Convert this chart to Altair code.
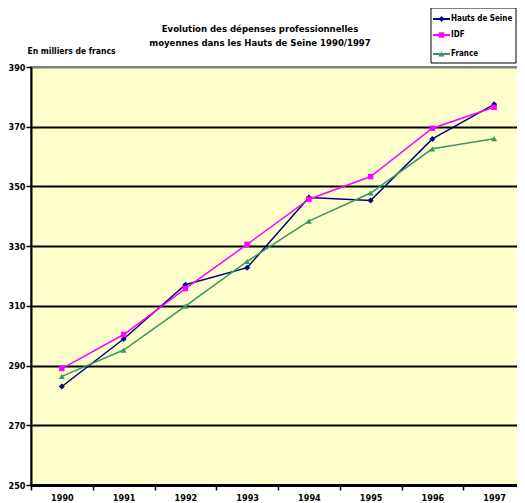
import altair as alt
import pandas as pd

years = ["1990", "1991", "1992", "1993", "1994", "1995", "1996", "1997"]
series_names = ["Hauts de Seine", "IDF", "France"]
hauts_de_seine = [283.0, 298.9, 317.1, 322.8, 346.3, 345.3, 365.9, 377.5]
idf = [289.0, 300.4, 315.8, 330.6, 345.7, 353.3, 369.5, 376.5]
france = [286.4, 295.2, 309.9, 324.9, 338.4, 347.8, 362.6, 366.0]
y_ticks = [250, 270, 290, 310, 330, 350, 370, 390]
title_lines = ["Evolution  des  dépenses  professionnelles",
               "moyennes  dans  les  Hauts  de  Seine  1990/1997"]
y_title = "En milliers de francs"

colors = ["#000080", "#FF00FF", "#339966"]
shapes = ["diamond", "square", "triangle-up"]
sizes = [36, 30, 36]
values = [hauts_de_seine, idf, france]

FONT = "DejaVu Sans Condensed"

x_enc = alt.X(
    "year:N",
    sort=years,
    scale=alt.Scale(type="band", domain=years, paddingInner=0, paddingOuter=0),
    axis=alt.Axis(
        title=None, labelAngle=0, tickBand="extent", grid=False,
        domainColor="black", domainWidth=3, tickColor="black", tickWidth=1.5,
        tickSize=5, labelPadding=3, labelFont=FONT, labelFontWeight="bold",
        labelFontSize=9, labelColor="black",
    ),
)
y_enc = alt.Y(
    "value:Q",
    scale=alt.Scale(domain=[250, 390], nice=False, zero=False),
    axis=alt.Axis(
        values=y_ticks, grid=True,
        gridColor={"condition": {"test": "datum.value == 390", "value": "#808080"}, "value": "black"},
        gridWidth=2, domainColor="black", domainWidth=2, tickColor="black",
        tickWidth=1.5, tickSize=5, labelPadding=1, labelFont=FONT,
        labelFontWeight="bold", labelFontSize=9, labelColor="black",
        title=y_title, titleAngle=0, titleAlign="left", titleBaseline="middle",
        titleX=-4, titleY=-17, titleFont=FONT, titleFontWeight="bold",
        titleFontSize=8.5, titleColor="black",
    ),
)

layers = []
for name, vals, col, shp, sz in zip(series_names, values, colors, shapes, sizes):
    df = pd.DataFrame({"year": years, "value": vals, "series": name})
    base = alt.Chart(df)
    layers.append(base.mark_line(color=col, strokeWidth=1.5).encode(x=x_enc, y=y_enc))
    layers.append(base.mark_point(color=col, shape=shp, size=sz, filled=True, opacity=1).encode(x=x_enc, y=y_enc))

# title text
for i, line in enumerate(title_lines):
    layers.append(
        alt.Chart(pd.DataFrame({"t": [line]})).mark_text(
            font=FONT, fontWeight="bold", fontSize=9.5, align="center", baseline="middle", color="black"
        ).encode(x=alt.value(229), y=alt.value(-38 + 14 * i), text="t:N")
    )

# legend box
layers.append(
    alt.Chart(pd.DataFrame({"a": [0]})).mark_rect(fill="white", stroke="black", strokeWidth=1).encode(
        x=alt.value(400), x2=alt.value(485), y=alt.value(-59), y2=alt.value(-4)
    )
)
legend_y = [-48, -32, -13]
for name, col, shp, sz, ly in zip(series_names, colors, shapes, sizes, legend_y):
    ldf = pd.DataFrame({"name": [name]})
    lb = alt.Chart(ldf)
    layers.append(lb.mark_rule(color=col, strokeWidth=2).encode(x=alt.value(402), x2=alt.value(419), y=alt.value(ly)))
    layers.append(lb.mark_point(color=col, shape=shp, size=sz, filled=True, opacity=1).encode(x=alt.value(410.5), y=alt.value(ly)))
    layers.append(
        lb.mark_text(font=FONT, fontWeight="bold", fontSize=8, align="left", baseline="middle", color="black").encode(
            x=alt.value(420), y=alt.value(ly), text="name:N"
        )
    )

chart = alt.layer(*layers).properties(
    width=494, height=418,
    padding={"left": 23, "top": 59, "right": -8, "bottom": 16},
    autosize=alt.AutoSizeParams(type="none"),
    background="white",
).configure_view(fill="#FFFFCC", stroke="#808080", strokeWidth=2)

chart.save("out.html", embed_options={"renderer": "svg", "actions": False})
